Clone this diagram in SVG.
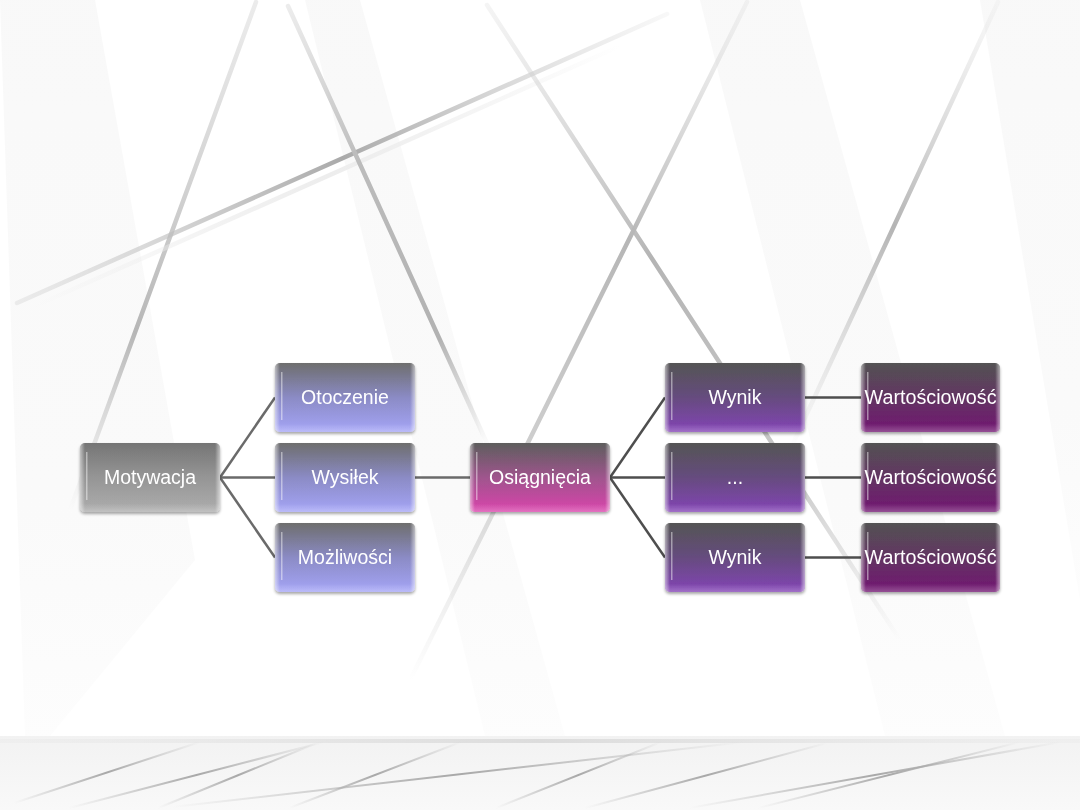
<svg xmlns="http://www.w3.org/2000/svg" width="1080" height="810" viewBox="0 0 1080 810">
<defs>
<linearGradient id="gGray" x1="0" y1="0" x2="0" y2="1"><stop offset="0" stop-color="#6e6e6e"/><stop offset="0.5" stop-color="#909090"/><stop offset="1" stop-color="#a9a9a9"/></linearGradient>
<linearGradient id="gLav" x1="0" y1="0" x2="0" y2="1"><stop offset="0" stop-color="#666"/><stop offset="0.5" stop-color="#8585c2"/><stop offset="1" stop-color="#a0a0f6"/></linearGradient>
<linearGradient id="gPink" x1="0" y1="0" x2="0" y2="1"><stop offset="0" stop-color="#555"/><stop offset="0.5" stop-color="#9a4c87"/><stop offset="1" stop-color="#d83aa8"/></linearGradient>
<linearGradient id="gPurp" x1="0" y1="0" x2="0" y2="1"><stop offset="0" stop-color="#4b4b4b"/><stop offset="0.5" stop-color="#5e4378"/><stop offset="1" stop-color="#7c38b2"/></linearGradient>
<linearGradient id="gMag" x1="0" y1="0" x2="0" y2="1"><stop offset="0" stop-color="#4a4a4a"/><stop offset="0.5" stop-color="#5a2a5a"/><stop offset="1" stop-color="#6b0a6b"/></linearGradient>
<linearGradient id="gBevel" x1="0" y1="0" x2="1" y2="0"><stop offset="0" stop-color="#fff" stop-opacity="0.55"/><stop offset="0.035" stop-color="#fff" stop-opacity="0.05"/><stop offset="0.965" stop-color="#fff" stop-opacity="0.05"/><stop offset="1" stop-color="#fff" stop-opacity="0.55"/></linearGradient>
<linearGradient id="gBot" x1="0" y1="0" x2="0" y2="1"><stop offset="0" stop-color="#fff" stop-opacity="0"/><stop offset="0.88" stop-color="#fff" stop-opacity="0"/><stop offset="1" stop-color="#fff" stop-opacity="0.25"/></linearGradient>
<linearGradient id="gBand" x1="0" y1="0" x2="0" y2="1"><stop offset="0" stop-color="#f2f2f2"/><stop offset="1" stop-color="#f9f9f9"/></linearGradient>
<linearGradient id="gEdge" x1="0" y1="0" x2="1" y2="0"><stop offset="0" stop-color="#e6e6e6" stop-opacity="0.3"/><stop offset="0.5" stop-color="#dcdcdc"/><stop offset="1" stop-color="#e6e6e6" stop-opacity="0.3"/></linearGradient>
<linearGradient id="gBL" x1="0" y1="0" x2="1" y2="0"><stop offset="0" stop-color="#b0b0b0" stop-opacity="0"/><stop offset="0.5" stop-color="#a8a8a8"/><stop offset="1" stop-color="#b0b0b0" stop-opacity="0"/></linearGradient>
<linearGradient id="gPoly" x1="0" y1="0" x2="0" y2="1"><stop offset="0" stop-color="#f6f6f6"/><stop offset="0.7" stop-color="#f8f8f8"/><stop offset="1" stop-color="#fcfcfc"/></linearGradient>
<linearGradient id="lA" gradientUnits="userSpaceOnUse" x1="256" y1="2" x2="70" y2="510"><stop offset="0" stop-color="#d8d8d8" stop-opacity="0.5"/><stop offset="0.65" stop-color="#b6b6b6"/><stop offset="1" stop-color="#c8c8c8" stop-opacity="0"/></linearGradient>
<linearGradient id="lB" gradientUnits="userSpaceOnUse" x1="17" y1="303" x2="667" y2="14"><stop offset="0" stop-color="#d0d0d0" stop-opacity="0.35"/><stop offset="0.5" stop-color="#aaaaaa"/><stop offset="1" stop-color="#d0d0d0" stop-opacity="0.15"/></linearGradient>
<linearGradient id="lB2" gradientUnits="userSpaceOnUse" x1="35" y1="306" x2="620" y2="46"><stop offset="0" stop-color="#e8e8e8" stop-opacity="0"/><stop offset="0.5" stop-color="#ededed"/><stop offset="1" stop-color="#e8e8e8" stop-opacity="0"/></linearGradient>
<linearGradient id="lC" gradientUnits="userSpaceOnUse" x1="288" y1="6" x2="490" y2="450"><stop offset="0" stop-color="#d0d0d0" stop-opacity="0.4"/><stop offset="0.35" stop-color="#bcbcbc"/><stop offset="0.75" stop-color="#b2b2b2"/><stop offset="1" stop-color="#c8c8c8" stop-opacity="0"/></linearGradient>
<linearGradient id="lD" gradientUnits="userSpaceOnUse" x1="487" y1="5" x2="900" y2="640"><stop offset="0" stop-color="#dcdcdc" stop-opacity="0.3"/><stop offset="0.4" stop-color="#b4b4b4"/><stop offset="0.75" stop-color="#bdbdbd" stop-opacity="0.8"/><stop offset="1" stop-color="#cccccc" stop-opacity="0"/></linearGradient>
<linearGradient id="lE" gradientUnits="userSpaceOnUse" x1="747" y1="2" x2="410" y2="680"><stop offset="0" stop-color="#dcdcdc" stop-opacity="0.3"/><stop offset="0.35" stop-color="#b6b6b6"/><stop offset="0.7" stop-color="#c6c6c6" stop-opacity="0.8"/><stop offset="1" stop-color="#d0d0d0" stop-opacity="0"/></linearGradient>
<linearGradient id="lF" gradientUnits="userSpaceOnUse" x1="998" y1="2" x2="790" y2="450"><stop offset="0" stop-color="#e0e0e0" stop-opacity="0.2"/><stop offset="0.5" stop-color="#b4b4b4"/><stop offset="1" stop-color="#d0d0d0" stop-opacity="0"/></linearGradient>
<filter id="sh" x="-10%" y="-10%" width="120%" height="130%"><feGaussianBlur in="SourceAlpha" stdDeviation="1.5"/><feOffset dy="2" result="b"/><feComponentTransfer><feFuncA type="linear" slope="0.35"/></feComponentTransfer><feMerge><feMergeNode/><feMergeNode in="SourceGraphic"/></feMerge></filter>
</defs>
<style>
.bgl{fill:none;stroke-linecap:round;stroke-width:4.5}
.bgp{fill:url(#gPoly);fill-opacity:0.7}
.box{stroke:none}
.bev{fill:url(#gBevel)}
.bot{fill:url(#gBot)}
.hl{fill:#fff;fill-opacity:0.45}
.lbl{font-family:"Liberation Sans",Arial,sans-serif;font-size:19.5px;fill:#fff;text-anchor:middle}
.con{stroke-width:2.5;fill:none}
.bl{stroke:url(#gBL);stroke-width:2;fill:none}
</style>
<!-- background -->
<rect x="0" y="0" width="1080" height="810" fill="#ffffff"/>
<g id="background">
<polygon class="bgp" points="0,0 95,0 195,560 50,736 25,736"/>
<polygon class="bgp" points="305,0 360,0 565,736 485,736"/>
<polygon class="bgp" points="700,0 800,0 1005,736 885,736"/>
<polygon class="bgp" points="980,0 1080,0 1080,600"/>
<line class="bgl" x1="256" y1="2" x2="70" y2="510" stroke="url(#lA)"/>
<line class="bgl" x1="35" y1="306" x2="620" y2="46" stroke="url(#lB2)"/>
<line class="bgl" x1="17" y1="303" x2="667" y2="14" stroke="url(#lB)"/>
<line class="bgl" x1="288" y1="6" x2="490" y2="450" stroke="url(#lC)"/>
<line class="bgl" x1="487" y1="5" x2="900" y2="640" stroke="url(#lD)"/>
<line class="bgl" x1="747" y1="2" x2="410" y2="680" stroke="url(#lE)"/>
<line class="bgl" x1="998" y1="2" x2="790" y2="450" stroke="url(#lF)"/>
</g>
<g id="bottom-band">
<rect x="0" y="736" width="1080" height="74" fill="url(#gBand)"/>
<rect x="0" y="739" width="1080" height="4" fill="url(#gEdge)"/>
<line class="bl" x1="14" y1="803" x2="200" y2="742"/>
<line class="bl" x1="69" y1="808" x2="324" y2="742"/>
<line class="bl" x1="158" y1="808" x2="317" y2="743"/>
<line class="bl" x1="172" y1="807" x2="744" y2="742"/>
<line class="bl" x1="289" y1="808" x2="461" y2="742"/>
<line class="bl" x1="496" y1="808" x2="661" y2="742"/>
<line class="bl" x1="585" y1="808" x2="827" y2="743"/>
<line class="bl" x1="689" y1="808" x2="1061" y2="742"/>
<line class="bl" x1="758" y1="808" x2="1020" y2="742"/>
</g>
<!-- connectors -->
<g id="connectors">
<g stroke="#6a6a6a" class="con">
<line x1="220" y1="477.5" x2="275" y2="397.5"/>
<line x1="220" y1="477.5" x2="275" y2="477.5"/>
<line x1="220" y1="477.5" x2="275" y2="557.5"/>
<line x1="415" y1="477.5" x2="470" y2="477.5"/>
</g>
<g stroke="#4e4e4e" class="con">
<line x1="610" y1="477.5" x2="665" y2="397.5"/>
<line x1="610" y1="477.5" x2="665" y2="477.5"/>
<line x1="610" y1="477.5" x2="665" y2="557.5"/>
<line x1="805" y1="397.5" x2="861" y2="397.5"/>
<line x1="805" y1="477.5" x2="861" y2="477.5"/>
<line x1="805" y1="557.5" x2="861" y2="557.5"/>
</g>
</g>
<!-- nodes -->
<g id="n-motywacja" filter="url(#sh)"><rect class="box" x="80" y="443" width="140" height="69" rx="5" fill="url(#gGray)"/><rect class="bev" x="80" y="443" width="140" height="69" rx="5"/><rect class="bot" x="80" y="443" width="140" height="69" rx="5"/><rect class="hl" x="86" y="452" width="1.5" height="48"/><text class="lbl" x="150" y="484">Motywacja</text></g>
<g id="n-otoczenie" filter="url(#sh)"><rect class="box" x="275" y="363" width="140" height="69" rx="5" fill="url(#gLav)"/><rect class="bev" x="275" y="363" width="140" height="69" rx="5"/><rect class="bot" x="275" y="363" width="140" height="69" rx="5"/><rect class="hl" x="281" y="372" width="1.5" height="48"/><text class="lbl" x="345" y="404">Otoczenie</text></g>
<g id="n-wysilek" filter="url(#sh)"><rect class="box" x="275" y="443" width="140" height="69" rx="5" fill="url(#gLav)"/><rect class="bev" x="275" y="443" width="140" height="69" rx="5"/><rect class="bot" x="275" y="443" width="140" height="69" rx="5"/><rect class="hl" x="281" y="452" width="1.5" height="48"/><text class="lbl" x="345" y="484">Wysiłek</text></g>
<g id="n-mozliwosci" filter="url(#sh)"><rect class="box" x="275" y="523" width="140" height="69" rx="5" fill="url(#gLav)"/><rect class="bev" x="275" y="523" width="140" height="69" rx="5"/><rect class="bot" x="275" y="523" width="140" height="69" rx="5"/><rect class="hl" x="281" y="532" width="1.5" height="48"/><text class="lbl" x="345" y="564">Możliwości</text></g>
<g id="n-osiagniecia" filter="url(#sh)"><rect class="box" x="470" y="443" width="140" height="69" rx="5" fill="url(#gPink)"/><rect class="bev" x="470" y="443" width="140" height="69" rx="5"/><rect class="bot" x="470" y="443" width="140" height="69" rx="5"/><rect class="hl" x="476" y="452" width="1.5" height="48"/><text class="lbl" x="540" y="484">Osiągnięcia</text></g>
<g id="n-wynik1" filter="url(#sh)"><rect class="box" x="665" y="363" width="140" height="69" rx="5" fill="url(#gPurp)"/><rect class="bev" x="665" y="363" width="140" height="69" rx="5"/><rect class="bot" x="665" y="363" width="140" height="69" rx="5"/><rect class="hl" x="671" y="372" width="1.5" height="48"/><text class="lbl" x="735" y="404">Wynik</text></g>
<g id="n-dots" filter="url(#sh)"><rect class="box" x="665" y="443" width="140" height="69" rx="5" fill="url(#gPurp)"/><rect class="bev" x="665" y="443" width="140" height="69" rx="5"/><rect class="bot" x="665" y="443" width="140" height="69" rx="5"/><rect class="hl" x="671" y="452" width="1.5" height="48"/><text class="lbl" x="735" y="484">...</text></g>
<g id="n-wynik2" filter="url(#sh)"><rect class="box" x="665" y="523" width="140" height="69" rx="5" fill="url(#gPurp)"/><rect class="bev" x="665" y="523" width="140" height="69" rx="5"/><rect class="bot" x="665" y="523" width="140" height="69" rx="5"/><rect class="hl" x="671" y="532" width="1.5" height="48"/><text class="lbl" x="735" y="564">Wynik</text></g>
<g id="n-wart1" filter="url(#sh)"><rect class="box" x="861" y="363" width="139" height="69" rx="5" fill="url(#gMag)"/><rect class="bev" x="861" y="363" width="139" height="69" rx="5"/><rect class="bot" x="861" y="363" width="139" height="69" rx="5"/><rect class="hl" x="867" y="372" width="1.5" height="48"/><text class="lbl" x="930.5" y="404" textLength="132" lengthAdjust="spacingAndGlyphs">Wartościowość</text></g>
<g id="n-wart2" filter="url(#sh)"><rect class="box" x="861" y="443" width="139" height="69" rx="5" fill="url(#gMag)"/><rect class="bev" x="861" y="443" width="139" height="69" rx="5"/><rect class="bot" x="861" y="443" width="139" height="69" rx="5"/><rect class="hl" x="867" y="452" width="1.5" height="48"/><text class="lbl" x="930.5" y="484" textLength="132" lengthAdjust="spacingAndGlyphs">Wartościowość</text></g>
<g id="n-wart3" filter="url(#sh)"><rect class="box" x="861" y="523" width="139" height="69" rx="5" fill="url(#gMag)"/><rect class="bev" x="861" y="523" width="139" height="69" rx="5"/><rect class="bot" x="861" y="523" width="139" height="69" rx="5"/><rect class="hl" x="867" y="532" width="1.5" height="48"/><text class="lbl" x="930.5" y="564" textLength="132" lengthAdjust="spacingAndGlyphs">Wartościowość</text></g>
</svg>
